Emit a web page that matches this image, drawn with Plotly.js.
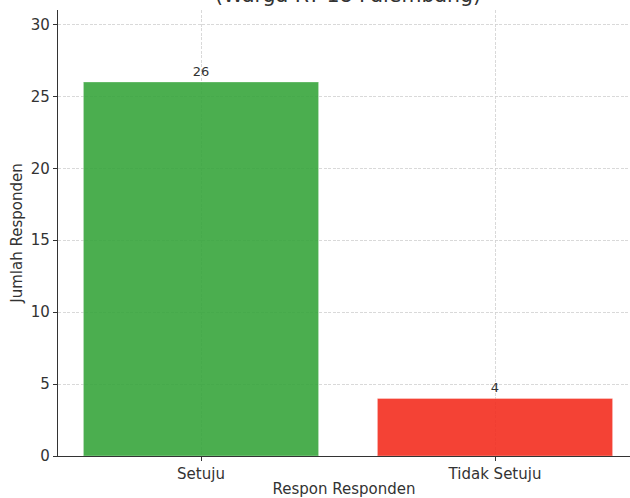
<!DOCTYPE html>
<html>
<head>
<meta charset="utf-8">
<script src="https://cdn.plot.ly/plotly-3.0.1.min.js"></script>
<style>html,body{margin:0;padding:0;background:#fff;}#chart{width:630px;height:498px;}</style>
</head>
<body>
<div id="chart"></div>
<script>
const categories = ["Setuju", "Tidak Setuju"];
const values = [26, 4];
const barColors = ["rgb(56,166,61)", "rgb(243,46,32)"];
const titleText = "(Warga RT 18 Palembang)";
const xTitle = "Respon Responden";
const yTitle = "Jumlah Responden";
const yTicks = [0, 5, 10, 15, 20, 25, 30];

const font = "DejaVu Sans, sans-serif";
const trace = {
  type: "bar",
  x: [0, 1],
  y: values,
  width: 0.8,
  marker: {color: barColors, opacity: 0.9, line: {color: "rgba(255,255,255,0.3)", width: 1.2}},
  text: values.map(String),
  textposition: "outside",
  cliponaxis: false,
  textfont: {family: font, size: 13, color: "#333333"},
  hoverinfo: "none"
};
const layout = {
  width: 630, height: 498,
  margin: {l: 58, r: 0, t: 10, b: 42},
  paper_bgcolor: "#ffffff", plot_bgcolor: "#ffffff",
  font: {family: font, color: "#333333"},
  showlegend: false,
  title: {text: titleText, font: {family: font, size: 20.5, color: "#333333"}, x: 348/630, xanchor: "center", xref: "container", yref: "container", y: 1 - 2/498, yanchor: "bottom"},
  xaxis: {
    range: [-0.4864, 1.4592], tickvals: [0, 1], ticktext: categories,
    showgrid: true, gridcolor: "#cfcfcf", griddash: "3px,1.5px", gridwidth: 0.8,
    showline: true, linecolor: "#333333", linewidth: 1.2,
    ticks: "outside", ticklen: 4, tickcolor: "#333333", tickwidth: 1,
    tickfont: {family: font, size: 15, color: "#333333"},
    title: {text: xTitle, font: {family: font, size: 15, color: "#333333"}, standoff: 5},
    zeroline: false, fixedrange: true, automargin: false
  },
  yaxis: {
    range: [0, 31], tickvals: yTicks,
    showgrid: true, gridcolor: "#cfcfcf", griddash: "3px,1.5px", gridwidth: 0.8,
    showline: true, linecolor: "#333333", linewidth: 1.2,
    ticks: "outside", ticklen: 4, tickcolor: "#333333", tickwidth: 1,
    tickfont: {family: font, size: 15, color: "#333333"},
    title: {text: yTitle, font: {family: font, size: 15, color: "#333333"}, standoff: 4},
    zeroline: false, fixedrange: true, automargin: false
  }
};
Plotly.newPlot("chart", [trace], layout, {staticPlot: true});
</script>
</body>
</html>
